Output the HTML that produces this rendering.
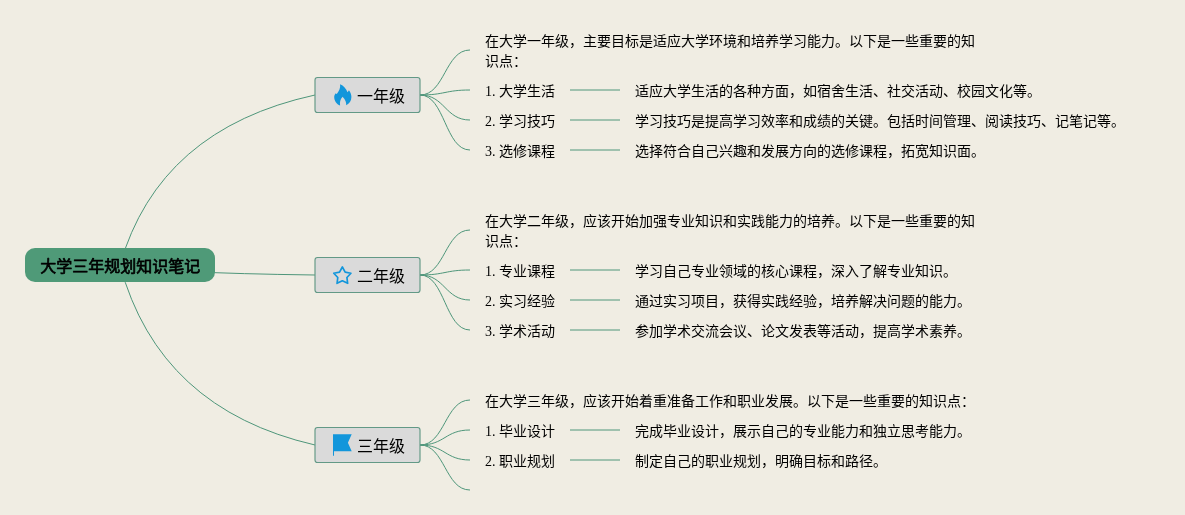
<!DOCTYPE html>
<html lang="zh-CN">
<head>
<meta charset="utf-8">
<title>大学三年规划知识笔记</title>
<style>
html,body{margin:0;padding:0;}
body{width:1185px;height:515px;overflow:hidden;background:#f0ede3;}
svg{display:block;position:absolute;left:0;top:0;will-change:transform;}
text{font-family:"Liberation Serif","Noto Sans CJK SC",serif;fill:#000;white-space:pre;}
.t14{font-size:14px;}
.t16{font-size:16px;}
.root{font-size:16px;font-weight:normal;stroke:#000;stroke-width:0.667px;stroke-linejoin:round;}
</style>
</head>
<body>
<svg width="1185" height="515" viewBox="0 0 1185 515">
<rect x="0" y="0" width="1185" height="515" fill="#f0ede3"/>
<g fill="none" stroke="#4e967a" stroke-width="1">
<path d="M 120.0,265.0 Q 159.00,129.00 315,95"/>
<path d="M 420,95 C 445.0,95 445.0,50.0 470,50.0"/>
<path d="M 420,95 C 445.0,95 445.0,90.0 470,90.0"/>
<path d="M 420,95 C 445.0,95 445.0,120.0 470,120.0"/>
<path d="M 420,95 C 445.0,95 445.0,150.0 470,150.0"/>
<path d="M 570,90.0 L 620,90.0"/>
<path d="M 570,120.0 L 620,120.0"/>
<path d="M 570,150.0 L 620,150.0"/>
<path d="M 120.0,265.0 Q 159.00,273.00 315,275"/>
<path d="M 420,275 C 445.0,275 445.0,230.0 470,230.0"/>
<path d="M 420,275 C 445.0,275 445.0,270.0 470,270.0"/>
<path d="M 420,275 C 445.0,275 445.0,300.0 470,300.0"/>
<path d="M 420,275 C 445.0,275 445.0,330.0 470,330.0"/>
<path d="M 570,270.0 L 620,270.0"/>
<path d="M 570,300.0 L 620,300.0"/>
<path d="M 570,330.0 L 620,330.0"/>
<path d="M 120.0,265.0 Q 159.00,409.00 315,445"/>
<path d="M 420,445 C 445.0,445 445.0,400.0 470,400.0"/>
<path d="M 420,445 C 445.0,445 445.0,430.0 470,430.0"/>
<path d="M 420,445 C 445.0,445 445.0,460.0 470,460.0"/>
<path d="M 420,445 C 445.0,445 445.0,490.0 470,490.0"/>
<path d="M 570,430.0 L 620,430.0"/>
<path d="M 570,460.0 L 620,460.0"/>
</g>
<rect x="25" y="248" width="190" height="34" rx="10" ry="10" fill="#4f9a78"/>
<text class="root" x="40.33" y="271.67">大学三年规划知识笔记</text>
<rect x="315" y="77.5" width="105" height="35" rx="2.5" ry="2.5" fill="#dadada" stroke="#629986" stroke-width="1.15"/>
<g transform="translate(0,95)"><path transform="translate(332,-11)" d="M 8.1 0.2 C 11.5 1.6, 14.3 4.6, 15.5 8.2 C 16.1 7.7, 16.6 7.1, 16.9 6.3 C 18.5 8.2, 19.4 10.6, 19.4 13.0 C 19.4 16.8, 17.4 19.8, 14.2 21.2 C 14.4 18.8, 13.6 15.6, 10.6 12.7 C 8.1 15.4, 7.6 18.6, 8.1 21.5 C 4.6 20.2, 2.2 16.9, 2.2 13.0 C 2.2 11.6, 2.8 10.2, 3.9 9.2 C 4.1 9.6, 4.4 9.8, 4.8 9.9 C 7.0 7.2, 8.6 4.2, 8.1 0.2 Z" fill="#1296db"/></g>
<text class="t16" x="357" y="102">一年级</text>
<text class="t14" x="485" y="46.0">在大学一年级，主要目标是适应大学环境和培养学习能力。以下是一些重要的知</text>
<text class="t14" x="485" y="66.0">识点：</text>
<text class="t14" x="485" y="96.0">1. 大学生活</text>
<text class="t14" x="635" y="96.0">适应大学生活的各种方面，如宿舍生活、社交活动、校园文化等。</text>
<text class="t14" x="485" y="126.0">2. 学习技巧</text>
<text class="t14" x="635" y="126.0">学习技巧是提高学习效率和成绩的关键。包括时间管理、阅读技巧、记笔记等。</text>
<text class="t14" x="485" y="156.0">3. 选修课程</text>
<text class="t14" x="635" y="156.0">选择符合自己兴趣和发展方向的选修课程，拓宽知识面。</text>
<rect x="315" y="257.5" width="105" height="35" rx="2.5" ry="2.5" fill="#dadada" stroke="#629986" stroke-width="1.15"/>
<g transform="translate(0,275)"><path d="M 342.35 -8.00 L 345.17 -2.88 L 350.91 -1.78 L 346.92 2.48 L 347.64 8.28 L 342.35 5.80 L 337.06 8.28 L 337.78 2.48 L 333.79 -1.78 L 339.53 -2.88 Z" fill="none" stroke="#1296db" stroke-width="1.7" stroke-linejoin="round"/></g>
<text class="t16" x="357" y="282">二年级</text>
<text class="t14" x="485" y="226.0">在大学二年级，应该开始加强专业知识和实践能力的培养。以下是一些重要的知</text>
<text class="t14" x="485" y="246.0">识点：</text>
<text class="t14" x="485" y="276.0">1. 专业课程</text>
<text class="t14" x="635" y="276.0">学习自己专业领域的核心课程，深入了解专业知识。</text>
<text class="t14" x="485" y="306.0">2. 实习经验</text>
<text class="t14" x="635" y="306.0">通过实习项目，获得实践经验，培养解决问题的能力。</text>
<text class="t14" x="485" y="336.0">3. 学术活动</text>
<text class="t14" x="635" y="336.0">参加学术交流会议、论文发表等活动，提高学术素养。</text>
<rect x="315" y="427.5" width="105" height="35" rx="2.5" ry="2.5" fill="#dadada" stroke="#629986" stroke-width="1.15"/>
<g transform="translate(0,445)"><path d="M 333 -10.7 L 351.7 -10.7 L 347.9 -2.2 L 351.7 6.3 L 334 6.3 L 334 10.8 L 333 10.8 Z" fill="#1296db"/></g>
<text class="t16" x="357" y="452">三年级</text>
<text class="t14" x="485" y="406.0">在大学三年级，应该开始着重准备工作和职业发展。以下是一些重要的知识点：</text>
<text class="t14" x="485" y="436.0">1. 毕业设计</text>
<text class="t14" x="635" y="436.0">完成毕业设计，展示自己的专业能力和独立思考能力。</text>
<text class="t14" x="485" y="466.0">2. 职业规划</text>
<text class="t14" x="635" y="466.0">制定自己的职业规划，明确目标和路径。</text>
</svg>
</body>
</html>
